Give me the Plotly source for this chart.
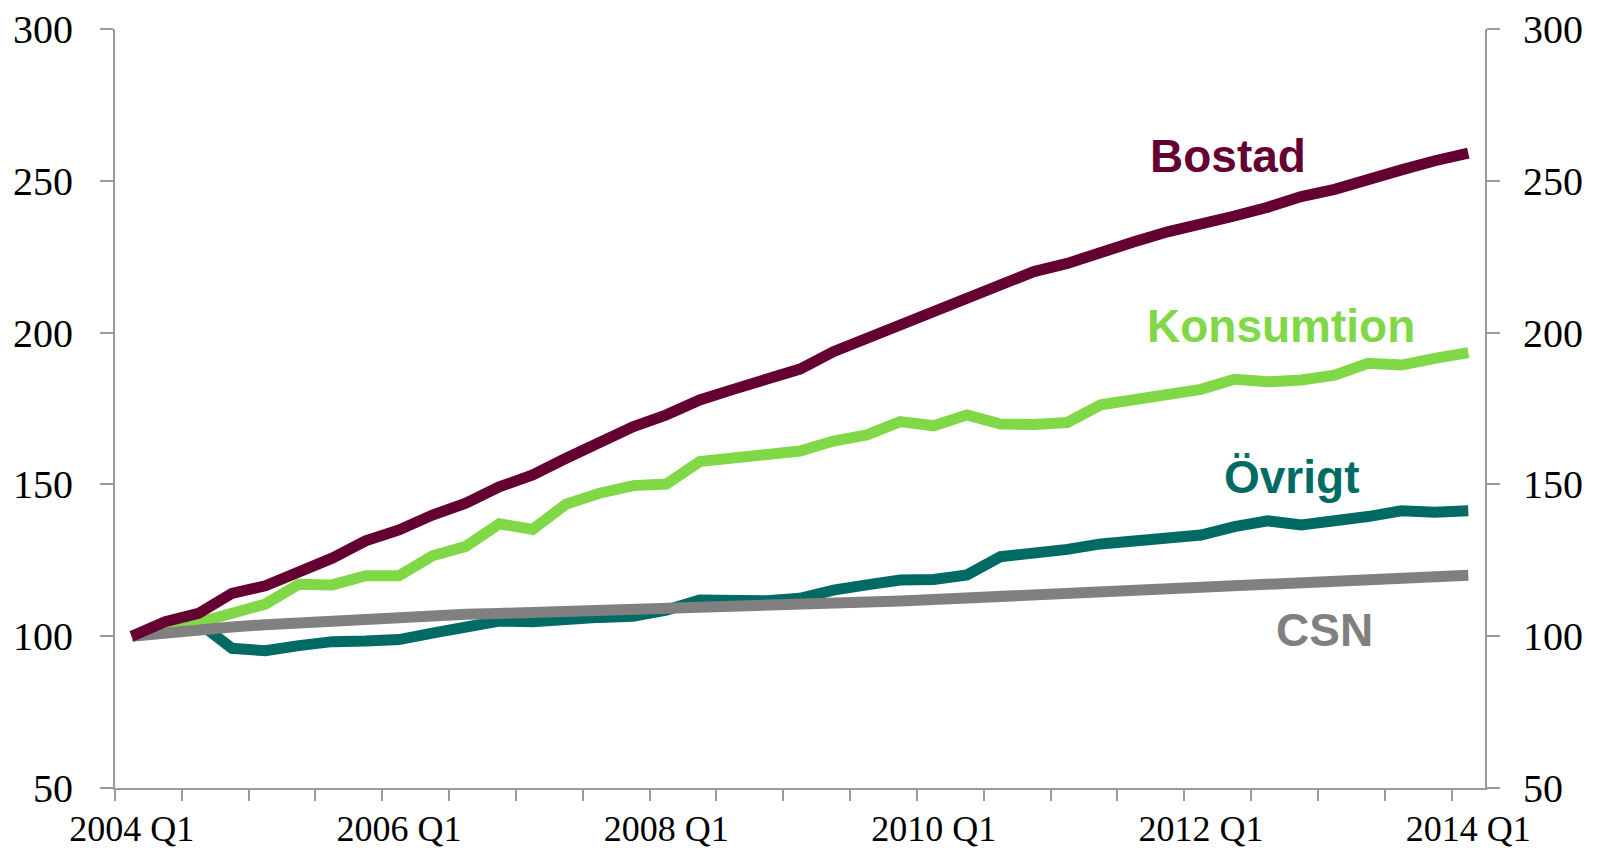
import plotly.graph_objects as go

quarters = [f"{y} Q{q}" for y in range(2004, 2015) for q in range(1, 5)][:41]

bostad = [100.0, 104.8, 107.5, 114.1, 116.6, 121.2, 125.7, 131.4, 135.0, 139.9,
          143.8, 149.2, 153.1, 158.6, 163.5, 169.0, 172.9, 177.8, 181.3, 184.8,
          188.0, 193.7, 198.1, 203.3, 206.9, 212.1, 215.7, 220.1, 222.8, 226.6,
          229.9, 233.2, 235.4, 238.4, 241.3, 244.8, 247.2, 250.8, 253.6, 256.6,
          259.1]
konsumtion = [100.0, 102.8, 104.5, 107.5, 110.6, 117.1, 116.9, 119.9, 119.9, 126.5,
              129.6, 137.0, 135.2, 143.5, 147.1, 149.6, 150.1, 157.5, 158.6, 159.9,
              161.0, 164.3, 166.3, 170.7, 169.3, 172.9, 169.9, 169.7, 170.4, 176.2,
              177.8, 180.0, 181.3, 184.6, 183.8, 184.4, 186.0, 189.9, 189.3, 191.5,
              193.4]
ovrigt = [100.0, 102.5, 104.5, 96.0, 95.2, 96.9, 98.2, 98.4, 98.9, 101.0,
          103.0, 105.0, 104.8, 105.9, 106.2, 106.6, 108.6, 111.9, 111.4, 111.7,
          112.5, 115.2, 116.9, 118.5, 118.7, 120.2, 126.2, 127.0, 128.6, 130.4,
          131.5, 131.9, 133.3, 136.1, 138.0, 136.6, 137.7, 139.4, 141.3, 140.8,
          141.3]
csn = [100.0, 101.2, 102.2, 103.0, 103.8, 104.5, 105.2, 105.8, 106.3, 106.8,
       107.2, 107.5, 107.8, 108.0, 108.2, 108.4, 108.7, 109.1, 109.5, 109.9,
       110.3, 110.7, 111.1, 111.6, 112.1, 112.6, 113.1, 113.6, 114.1, 114.6,
       115.1, 115.6, 116.1, 116.6, 117.1, 117.6, 118.1, 118.6, 119.1, 119.6,
       120.1]

y_ticks = [50, 100, 150, 200, 250, 300]
x_label_every = 8

series = [
    ("Övrigt", ovrigt, "#006A64"),
    ("Konsumtion", konsumtion, "#80D846"),
    ("CSN", csn, "#808080"),
    ("Bostad", bostad, "#640032"),
]

xs = list(range(len(quarters)))
fig = go.Figure()
for name, vals, col in series:
    fig.add_trace(go.Scatter(x=xs, y=vals, mode="lines", name=name,
                             line=dict(color=col, width=11),
                             hoverinfo="skip"))
# invisible trace for the right axis
fig.add_trace(go.Scatter(x=[xs[0]], y=[bostad[0]], yaxis="y2", mode="markers",
                         marker=dict(opacity=0), showlegend=False, hoverinfo="skip"))

axis_col = "#9a9a9a"
tick_font = dict(family="Liberation Serif, serif", size=40, color="#000000")

fig.update_layout(
    width=1600, height=850,
    margin=dict(l=115, r=115, t=29, b=62),
    paper_bgcolor="white", plot_bgcolor="white",
    showlegend=False,
    xaxis=dict(
        range=[-0.5, len(quarters) - 0.5],
        tickmode="array",
        tickvals=xs[::x_label_every],
        ticktext=quarters[::x_label_every],
        ticks="outside", ticklen=0, tickcolor=axis_col,
        ticklabelstandoff=8,
        minor=dict(tick0=-0.5, dtick=2, ticks="outside", ticklen=11,
                   tickcolor=axis_col, tickwidth=2, showgrid=False),
        showline=True, linecolor=axis_col, linewidth=2,
        showgrid=False, zeroline=False, automargin=False,
        tickfont=dict(family="Liberation Serif, serif", size=36, color="#000000"),
    ),
    yaxis=dict(
        range=[50, 300], tickmode="array", tickvals=y_ticks,
        ticks="outside", ticklen=13, tickcolor=axis_col, tickwidth=2,
        ticklabelstandoff=19, automargin=False,
        showline=True, linecolor=axis_col, linewidth=2,
        showgrid=False, zeroline=False, tickfont=tick_font,
    ),
    yaxis2=dict(
        range=[50, 300], tickmode="array", tickvals=y_ticks,
        overlaying="y", side="right",
        ticks="outside", ticklen=13, tickcolor=axis_col, tickwidth=2,
        ticklabelstandoff=15, automargin=False,
        showline=True, linecolor=axis_col, linewidth=2,
        showgrid=False, zeroline=False, tickfont=tick_font,
    ),
)

label_font = "Liberation Sans, Arial, sans-serif"
labels = [
    ("Bostad", 32.8, 258.2, "#640032"),
    ("Konsumtion", 34.4, 202.2, "#80D846"),
    ("Övrigt", 34.7, 152.3, "#006A64"),
    ("CSN", 35.7, 102.0, "#808080"),
]
for text, x, y, col in labels:
    fig.add_annotation(x=x, y=y, xref="x", yref="y", text=f"<b>{text}</b>",
                       showarrow=False, xanchor="center", yanchor="middle",
                       font=dict(family=label_font, size=46, color=col))

fig.write_html("out.html", config={"displayModeBar": False},
               post_script="document.body.style.margin='0';document.body.style.overflow='hidden';")
